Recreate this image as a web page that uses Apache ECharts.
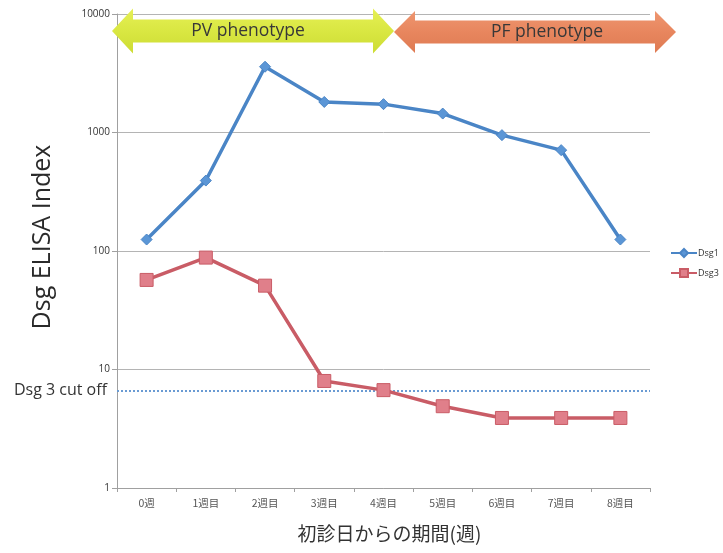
<!DOCTYPE html>
<html>
<head>
<meta charset="utf-8">
<script src="https://cdn.jsdelivr.net/npm/echarts@6/dist/echarts.min.js"></script>
<style>html,body{margin:0;padding:0;background:#fff;}#c{width:723px;height:553px;}</style>
</head>
<body>
<div id="c"></div>
<script>
const categories = ['0週', '1週目', '2週目', '3週目', '4週目', '5週目', '6週目', '7週目', '8週目'];
const dsg1 = [125, 393, 3590, 1810, 1735, 1445, 950, 710, 125];
const dsg3 = [57, 88, 51, 8.0, 6.7, 4.9, 3.9, 3.9, 3.9];
const dsg3Cutoff = 6.6;
const yTicks = [1, 10, 100, 1000, 10000];

const chart = echarts.init(document.getElementById('c'));
const latin = '"Open Sans", "Noto Sans", sans-serif';
const cjk = '"Noto Sans CJK JP", sans-serif';

function arrow(x0, x1, yc, head, halfShaft, halfHead) {
  return [
    [x0, yc], [x0 + head, yc - halfHead], [x0 + head, yc - halfShaft],
    [x1 - head, yc - halfShaft], [x1 - head, yc - halfHead], [x1, yc],
    [x1 - head, yc + halfHead], [x1 - head, yc + halfShaft],
    [x0 + head, yc + halfShaft], [x0 + head, yc + halfHead]
  ];
}

chart.setOption({
  backgroundColor: '#ffffff',
  animation: false,
  grid: { left: 117, right: 73, top: 14, bottom: 65 },
  legend: {
    orient: 'vertical',
    left: 670, top: 248,
    width: 53,
    padding: 0,
    itemWidth: 26, itemHeight: 10, itemGap: 10,
    textStyle: { fontSize: 9, color: '#333', fontFamily: latin, padding: [0, 0, 0, -4] },
    data: ['Dsg1', 'Dsg3']
  },
  xAxis: {
    type: 'category',
    data: categories,
    boundaryGap: true,
    name: '初診日からの期間(週)',
    nameLocation: 'middle',
    nameGap: 36,
    nameTextStyle: { fontSize: 19, color: '#333', fontFamily: cjk, padding: [0, 0, 0, 12] },
    axisLine: { lineStyle: { color: '#a0a0a0', width: 1 } },
    axisTick: { show: true, length: 4, lineStyle: { color: '#a0a0a0' } },
    axisLabel: { fontSize: 10.5, color: '#555', margin: 10, fontFamily: cjk },
    splitLine: { show: false }
  },
  yAxis: {
    type: 'log',
    logBase: 10,
    min: yTicks[0],
    max: yTicks[yTicks.length - 1],
    axisLine: { show: true, lineStyle: { color: '#a0a0a0', width: 1 } },
    axisTick: { show: true, length: 5, lineStyle: { color: '#a0a0a0' } },
    axisLabel: { fontSize: 10, color: '#333', margin: 7, fontFamily: latin,
      formatter: v => String(Math.round(v)) },
    splitLine: { show: true, lineStyle: { color: '#b4b4b4', width: 1 } },
    minorTick: { show: false }
  },
  graphic: [
    {
      type: 'polygon',
      shape: { points: arrow(112, 394, 31, 21, 11.5, 22.5) },
      style: {
        fill: new echarts.graphic.LinearGradient(0, 0, 0, 1, [
          { offset: 0, color: '#e6f055' },
          { offset: 0.5, color: '#d9e742' },
          { offset: 1, color: '#cddc34' }
        ])
      },
      z: 10
    },
    {
      type: 'polygon',
      shape: { points: arrow(394, 676, 32, 21, 11.5, 21) },
      style: {
        fill: new echarts.graphic.LinearGradient(0, 0, 0, 1, [
          { offset: 0, color: '#ee9670' },
          { offset: 0.5, color: '#e8865e' },
          { offset: 1, color: '#de7a52' }
        ])
      },
      z: 10
    },
    {
      type: 'text', x: 248, y: 31, z: 11,
      style: { text: 'PV phenotype', fontSize: 17.5, fill: '#383838', fontFamily: latin,
        align: 'center', verticalAlign: 'middle' }
    },
    {
      type: 'text', x: 547, y: 32, z: 11,
      style: { text: 'PF phenotype', fontSize: 17.5, fill: '#383838', fontFamily: latin,
        align: 'center', verticalAlign: 'middle' }
    },
    {
      type: 'text', x: 43, y: 237, rotation: Math.PI / 2, z: 11,
      style: { text: 'Dsg ELISA Index', fontSize: 25, fill: '#2a2a2a', fontFamily: latin,
        align: 'center', verticalAlign: 'middle' }
    }
  ],
  series: [
    {
      name: 'Dsg1',
      type: 'line',
      data: dsg1,
      symbol: 'diamond',
      symbolSize: 11,
      lineStyle: { color: '#4a85c6', width: 3.5 },
      itemStyle: { color: '#5b96d6', borderColor: '#4a85c6', borderWidth: 1 },
      z: 5
    },
    {
      name: 'Dsg3',
      type: 'line',
      data: dsg3,
      symbol: 'rect',
      symbolSize: 13,
      lineStyle: { color: '#c95c66', width: 3.5 },
      itemStyle: { color: '#e07f8a', borderColor: '#c95c66', borderWidth: 1 },
      z: 5,
      markLine: {
        silent: true,
        symbol: 'none',
        lineStyle: { color: '#6a9bd3', type: [2, 2], width: 2 },
        label: {
          show: true, position: 'start', distance: 10,
          formatter: 'Dsg 3 cut off',
          fontSize: 16, color: '#333', fontFamily: latin
        },
        data: [{ yAxis: dsg3Cutoff }]
      }
    }
  ]
});
</script>
</body>
</html>
